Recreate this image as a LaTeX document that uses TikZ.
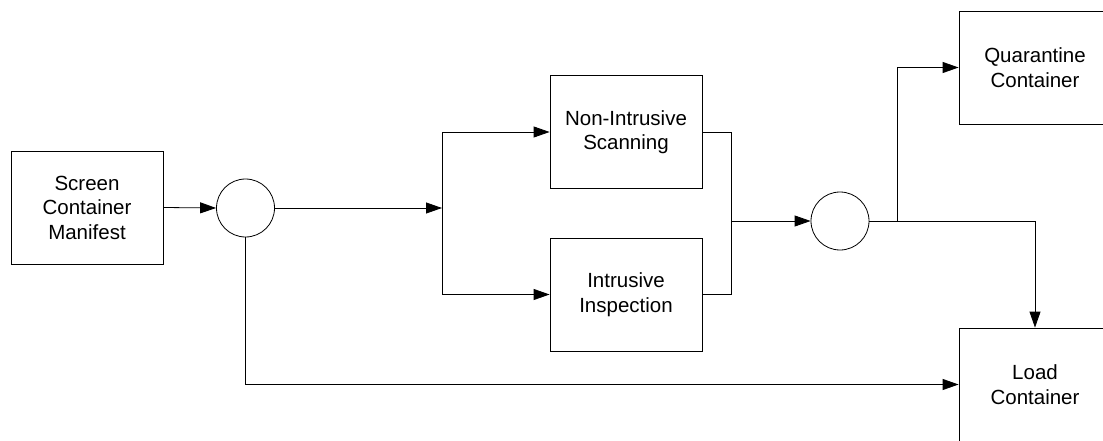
\documentclass[tikz,border=0pt]{standalone}
\usepackage{fontspec}
\setmainfont{Liberation Sans}
\usetikzlibrary{shapes,arrows.meta,positioning,calc}
\def\boxwidth{152pt}
\def\boxheight{113pt}

\begin{document}
\begin{tikzpicture}[x=1pt, y=-1pt,
  box/.style={draw, line width=0.8pt, minimum width=\boxwidth, minimum height=\boxheight,
    align=center, font=\fontsize{20.5}{24.5}\selectfont},
  junction/.style={draw, circle, line width=0.8pt, minimum size=58pt, inner sep=0pt},
  flow/.style={line width=0.8pt, -{Triangle[length=16pt,width=11pt]}},
  wire/.style={line width=0.8pt}
]

\useasboundingbox (0,0) rectangle (1103,441);

\node[box] (screen) at (87,207.5) {Screen\\Container\\Manifest};
\node[junction] (split) at (245.5,208) {};
\node[box] (scan) at (626,132) {Non-Intrusive\\Scanning};
\node[box] (inspect) at (626,294.5) {Intrusive\\Inspection};
\node[junction] (merge) at (840,221) {};
\node[box] (quarantine) at (1035,67.5) {Quarantine\\Container};
\node[box] (load) at (1035,384.5) {Load\\Container};

\coordinate (fork) at (442,208);
\coordinate (join) at (731,221);
\coordinate (tee) at (897,221);

\draw[flow] (screen.east) -- (split.west);
\draw[flow] (split.east) -- (fork);
\draw[flow] (fork) |- (scan.west);
\draw[flow] (fork) |- (inspect.west);

\draw[wire] (scan.east) -| (join);
\draw[wire] (inspect.east) -| (join);
\draw[flow] (join) -- (merge.west);

\draw[flow] (merge.east) -- (tee) |- (quarantine.west);
\draw[flow] (merge.east) -| (load.north);

\draw[flow] (split.south) |- (load.west);

\end{tikzpicture}
\end{document}
